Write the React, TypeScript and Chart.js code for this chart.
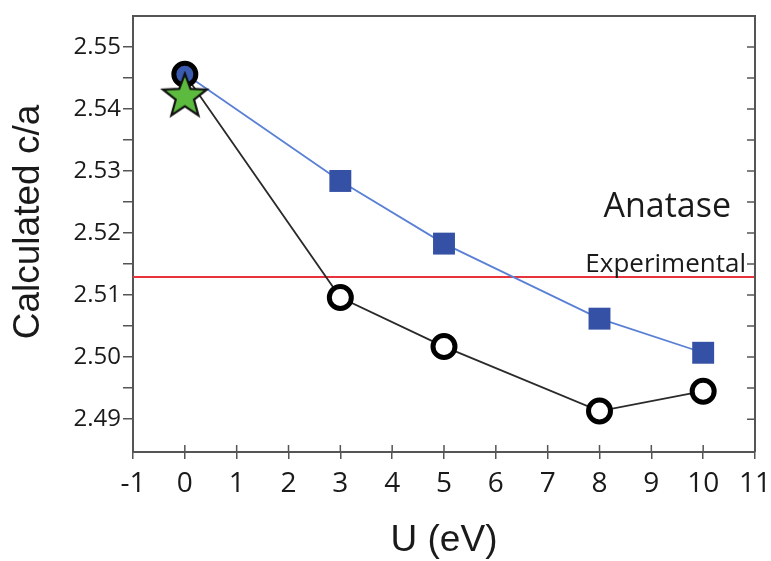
import React, { useEffect, useRef } from 'react';
import { Chart, registerables } from 'chart.js';

Chart.register(...registerables);

// ---- data ----
const uValues = [0, 3, 5, 8, 10];
const squareSeries = [2.5457, 2.5284, 2.5183, 2.5062, 2.5007];
const circleSeries = [2.5456, 2.5096, 2.5017, 2.4913, 2.4945];
const starU = [0];
const starSeries = [2.542];
const experimentalValue = 2.5129;
const xTickValues = [-1, 0, 1, 2, 3, 4, 5, 6, 7, 8, 9, 10, 11];
const yTickValues = [2.49, 2.495, 2.5, 2.505, 2.51, 2.515, 2.52, 2.525, 2.53, 2.535, 2.54, 2.545, 2.55];
const yLabelValues = [2.49, 2.5, 2.51, 2.52, 2.53, 2.54, 2.55];
const xTitle = 'U (eV)';
const yTitle = 'Calculated c/a';
const phaseLabel = 'Anatase';
const experimentalLabel = 'Experimental';

const TICK_FONT = "'Open Sans', sans-serif";
const TITLE_FONT = "'Liberation Sans', Arial, sans-serif";
const AXIS_COLOR = '#555555';

function makeStar(): HTMLCanvasElement {
  const c = document.createElement('canvas');
  const s = 52;
  c.width = s;
  c.height = s;
  const ctx = c.getContext('2d')!;
  const cx = s / 2;
  const cy = s / 2;
  const R = 23;
  const r = R * 0.42;
  ctx.beginPath();
  for (let i = 0; i < 10; i++) {
    const rad = i % 2 === 0 ? R : r;
    const a = -Math.PI / 2 + (i * Math.PI) / 5;
    const px = cx + rad * Math.cos(a);
    const py = cy + rad * Math.sin(a);
    if (i === 0) ctx.moveTo(px, py);
    else ctx.lineTo(px, py);
  }
  ctx.closePath();
  ctx.fillStyle = '#5cbb3e';
  ctx.fill();
  ctx.lineWidth = 2.2;
  ctx.strokeStyle = '#111111';
  ctx.lineJoin = 'miter';
  ctx.stroke();
  return c;
}

const decorPlugin = {
  id: 'decor',
  afterDraw(chart: any) {
    const { ctx, chartArea, scales } = chart;
    const { left, right, top, bottom } = chartArea;
    const y = scales.y;
    const x = scales.x;
    ctx.save();
    ctx.strokeStyle = AXIS_COLOR;
    ctx.lineWidth = 2;
    // frame top and right
    ctx.beginPath();
    ctx.moveTo(left, top);
    ctx.lineTo(right, top);
    ctx.lineTo(right, bottom);
    ctx.stroke();
    // right inner ticks
    ctx.lineWidth = 1.5;
    ctx.beginPath();
    yTickValues.forEach((v) => {
      const py = y.getPixelForValue(v);
      ctx.moveTo(right - 8, py);
      ctx.lineTo(right, py);
    });
    // x inner ticks
    xTickValues.forEach((v) => {
      const px = x.getPixelForValue(v);
      ctx.moveTo(px, bottom);
      ctx.lineTo(px, bottom - 7);
    });
    ctx.stroke();

    ctx.fillStyle = '#1a1a1a';
    // annotations
    ctx.textAlign = 'right';
    ctx.textBaseline = 'alphabetic';
    ctx.font = `34px ${TICK_FONT}`;
    ctx.fillText(phaseLabel, 731, 217);
    ctx.font = `26px ${TICK_FONT}`;
    ctx.fillText(experimentalLabel, 746, 272);

    // axis titles
    ctx.textAlign = 'center';
    ctx.textBaseline = 'middle';
    ctx.font = `37px ${TITLE_FONT}`;
    ctx.fillText(xTitle, (left + right) / 2, 541);
    ctx.save();
    ctx.translate(29, 222);
    ctx.rotate(-Math.PI / 2);
    ctx.fillText(yTitle, 0, 0);
    ctx.restore();
    ctx.restore();
  },
};

export default function App() {
  const canvasRef = useRef<HTMLCanvasElement | null>(null);

  useEffect(() => {
    if (!canvasRef.current) return;
    const star = makeStar();
    const chart = new Chart(canvasRef.current, {
      type: 'scatter',
      data: {
        datasets: [
          {
            label: 'star',
            data: starU.map((u, i) => ({ x: u, y: starSeries[i] })),
            pointStyle: star as any,
            pointRadius: 23,
            showLine: false,
          },
          {
            label: 'circles',
            data: uValues.map((u, i) => ({ x: u, y: circleSeries[i] })),
            showLine: true,
            borderColor: '#2a2a2a',
            borderWidth: 1.8,
            pointStyle: 'circle',
            pointRadius: 11,
            pointBorderWidth: 5,
            pointBorderColor: '#000000',
            pointBackgroundColor: uValues.map((_, i) => (i === 0 ? '#3a5bb0' : '#ffffff')),
          },
          {
            label: 'squares',
            data: uValues.map((u, i) => ({ x: u, y: squareSeries[i] })),
            showLine: true,
            borderColor: '#5a80d6',
            borderWidth: 1.8,
            pointStyle: 'rect',
            pointRadius: uValues.map((_, i) => (i === 0 ? 0 : 15.5)),
            pointBorderWidth: 0,
            pointBackgroundColor: '#3551a6',
            pointBorderColor: '#3551a6',
          },
          {
            label: 'experimental',
            data: [
              { x: -1, y: experimentalValue },
              { x: 11, y: experimentalValue },
            ],
            showLine: true,
            borderColor: '#e8323c',
            borderWidth: 2,
            pointRadius: 0,
          },
        ],
      },
      options: {
        responsive: false,
        animation: false,
        layout: { autoPadding: false, padding: { top: 16, right: 16, left: 0, bottom: 0 } },
        plugins: {
          legend: { display: false },
          tooltip: { enabled: false },
        },
        scales: {
          x: {
            type: 'linear',
            position: 'bottom',
            min: -1,
            max: 11,
            afterBuildTicks: (scale: any) => {
              scale.ticks = xTickValues.map((v) => ({ value: v }));
            },
            afterFit: (scale: any) => {
              scale.height = 109;
              scale.paddingLeft = 0;
              scale.paddingRight = 0;
            },
            ticks: {
              autoSkip: false,
              maxRotation: 0,
              padding: 8,
              color: '#1a1a1a',
              font: { family: TICK_FONT, size: 28 },
              callback: (v: any) => String(v),
            },
            grid: {
              display: true,
              drawOnChartArea: false,
              drawTicks: true,
              tickLength: 7,
              color: AXIS_COLOR,
              lineWidth: 1.5,
            },
            border: { display: true, color: AXIS_COLOR, width: 2 },
          },
          y: {
            type: 'linear',
            min: 2.4847,
            max: 2.555,
            afterBuildTicks: (scale: any) => {
              scale.ticks = yTickValues.map((v) => ({ value: v }));
            },
            afterFit: (scale: any) => {
              scale.width = 133;
              scale.paddingTop = 0;
              scale.paddingBottom = 0;
            },
            ticks: {
              autoSkip: false,
              padding: 2,
              color: '#1a1a1a',
              font: { family: TICK_FONT, size: 24 },
              callback: (v: any) => {
                const hit = yLabelValues.find((l) => Math.abs(l - v) < 1e-6);
                return hit !== undefined ? hit.toFixed(2) : '';
              },
            },
            grid: {
              display: true,
              drawOnChartArea: false,
              drawTicks: true,
              tickLength: 10,
              color: AXIS_COLOR,
              lineWidth: 1.5,
            },
            border: { display: true, color: AXIS_COLOR, width: 2 },
          },
        },
      },
      plugins: [decorPlugin],
    });
    return () => chart.destroy();
  }, []);

  return (
    <div style={{ position: 'absolute', left: 0, top: 0, width: 771, height: 561, background: '#ffffff' }}>
      <canvas ref={canvasRef} width={771} height={561} />
    </div>
  );
}
